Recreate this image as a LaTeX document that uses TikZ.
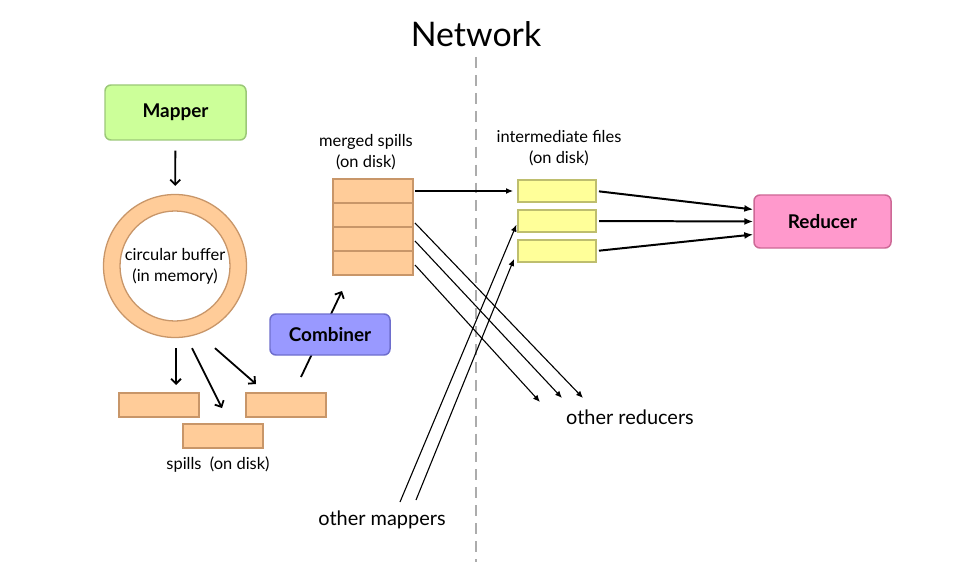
\documentclass[tikz,border=0pt]{standalone}
\usepackage{fontspec}
\setmainfont{Lato}
\usetikzlibrary{arrows.meta,positioning,calc}
\definecolor{mapfill}{RGB}{204,255,153}
\definecolor{mapline}{RGB}{155,200,120}
\definecolor{spillfill}{RGB}{255,204,153}
\definecolor{spillline}{RGB}{200,150,105}
\definecolor{combfill}{RGB}{153,153,255}
\definecolor{combline}{RGB}{110,110,205}
\definecolor{redfill}{RGB}{255,153,204}
\definecolor{redline}{RGB}{205,105,150}
\definecolor{filefill}{RGB}{255,255,153}
\definecolor{fileline}{RGB}{190,190,110}

\begin{document}
\begin{tikzpicture}[x=1bp, y=-1bp,
    task/.style={draw, rounded corners=6pt, line width=1.5pt, minimum width=141bp, minimum height=55bp, font=\fontsize{19}{22}\selectfont\bfseries},
    spillbox/.style={draw=spillline, fill=spillfill, line width=1.3pt, minimum width=80bp, minimum height=24bp, inner sep=0pt, outer sep=0pt},
    filebox/.style={draw=fileline, fill=filefill, line width=1.3pt, minimum width=78bp, minimum height=22bp, inner sep=0pt, outer sep=0pt},
    lbl/.style={font=\fontsize{16.5}{21}\selectfont, align=center},
    biglbl/.style={font=\fontsize{20}{23}\selectfont},
    arr/.style={-{Straight Barb[length=5pt, width=10pt]}, line width=1.8pt},
    tri/.style={-{Latex[length=7pt, width=6pt]}, line width=1.1pt},
    thick arr/.style={-{Latex[length=9pt, width=7pt]}, line width=2pt},
    netline/.style={draw=gray!65, dash pattern=on 11pt off 7pt, line width=1.5pt},
]
\useasboundingbox (0,0) rectangle (967,580);

\node[font=\fontsize{34}{40}\selectfont] (title) at (476,34) {Network};
\coordinate (nettop) at (476,57);
\coordinate (netbot) at (476,562);
\draw[netline] (nettop) -- (netbot);

% map side
\node[task, fill=mapfill, draw=mapline] (mapper) at (175.5,112.5) {Mapper};
\node[circle, draw=spillline, fill=spillfill, line width=1.3pt, minimum size=143bp] (buf) at (175,266) {};
\node[circle, draw=spillline, fill=white, line width=1.3pt, minimum size=110bp, inner sep=0pt, lbl] (bufin) at (buf) {circular buffer\\(in memory)};
\draw[arr, shorten <=10bp, shorten >=8bp] (mapper) -- (buf);

\node[spillbox] (spillA) at (159,405) {};
\node[spillbox] (spillB) at (223,436) {};
\node[spillbox] (spillC) at (286,405) {};
\node[lbl] (spillslbl) at (218,465) {spills\ \ (on disk)};
\draw[arr] ($(buf.south)+(1,10)$) -- ($(spillA.north)+(17,-8)$);
\draw[arr] ($(buf.south)+(17,10)$) -- ($(spillB.north)+(-1,-16)$);
\draw[arr] ($(buf.south)+(40,10)$) -- ($(spillC.north)+(-30,-9)$);

\node[spillbox] (merged1) at (373,191) {};
\node[spillbox, below=0pt of merged1] (merged2) {};
\node[spillbox, below=0pt of merged2] (merged3) {};
\node[spillbox, below=0pt of merged3] (merged4) {};
\node[lbl] (mergedlbl) at (366,152) {merged spills\\(on disk)};
\draw[arr] ($(spillC.north)+(15,-16)$) -- ($(merged4.south)+(-31,16)$);
\node[task, fill=combfill, draw=combline, minimum width=120bp, minimum height=41bp] (comb) at (330,334.5) {Combiner};

% reduce side
\node[filebox] (ifile1) at (557,191) {};
\node[filebox, below=8bp of ifile1] (ifile2) {};
\node[filebox, below=8bp of ifile2] (ifile3) {};
\node[lbl] (filelbl) at (559,148) {intermediate files\\(on disk)};
\node[task, fill=redfill, draw=redline, minimum width=137bp, minimum height=53bp] (reducer) at (822.5,221.5) {Reducer};

\node[biglbl] (otherred) at (630,417) {other reducers};
\node[biglbl] (othermap) at (382,520) {other mappers};
\coordinate (red1) at (583,398);
\coordinate (red2) at (562,398);
\coordinate (red3) at (540,402);
\coordinate (omap1) at (400,502);
\coordinate (omap2) at (416,500);

\draw[tri, shorten <=2bp, shorten >=5bp] (merged1) -- (ifile1);
\draw[tri] ($(merged2.east)+(2,8)$) -- (red1);
\draw[tri] ($(merged3.east)+(2,2)$) -- (red2);
\draw[tri] ($(merged4.east)+(2,2)$) -- (red3);
\draw[tri, shorten >=4bp] (omap1) -- (ifile2.west);
\draw[tri] (omap2) -- ($(ifile3.south west)+(-4,-3)$);

\draw[thick arr, shorten <=3bp] (ifile1.east) -- ($(reducer.west)+(0,-12)$);
\draw[thick arr, shorten <=3bp] (ifile2.east) -- (reducer.west);
\draw[thick arr, shorten <=3bp] (ifile3.east) -- ($(reducer.west)+(0,13)$);
\end{tikzpicture}
\end{document}
